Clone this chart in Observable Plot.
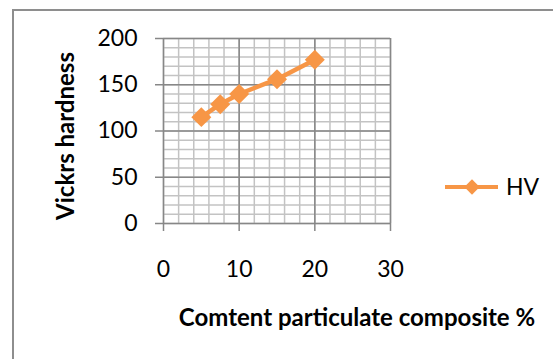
<!DOCTYPE html>
<html><head><meta charset="utf-8">
<script src="https://cdn.jsdelivr.net/npm/d3@7"></script>
<script src="https://cdn.jsdelivr.net/npm/@observablehq/plot@0.6"></script>
<style>
html,body{margin:0;padding:0;background:#fff;overflow:hidden}
#wrap{position:relative;width:553px;height:359px;overflow:hidden;font-family:Lato,"Open Sans",sans-serif}
#frame{position:absolute;left:12px;top:9px;width:600px;height:400px;border:2px solid #8e8e8e;box-sizing:border-box}
#wrap svg{position:absolute;left:0;top:0}
</style></head><body><div id="wrap"><div id="frame"></div></div>
<script>
const content = [5, 7.5, 10, 15, 20];
const hardness = [115, 129, 140, 156, 177];
const seriesName = "HV";
const xTicks = [0, 10, 20, 30];
const yTicks = [0, 50, 100, 150, 200];
const xMinorTicks = d3.range(0, 31, 2);
const yMinorTicks = d3.range(0, 201, 10);
const xTitle = "Comtent particulate composite %";
const yTitle = "Vickrs hardness";

const data = content.map((x, i) => ({x, y: hardness[i]}));
const orange = "#F79646";
const minorC = "#c3c3c3", majorC = "#878787";
const font = "Lato, 'Open Sans', sans-serif";

const chart = Plot.plot({
  width: 553, height: 359,
  marginLeft: 163, marginRight: 163, marginTop: 38, marginBottom: 136,
  style: {fontFamily: font, background: "transparent", overflow: "visible"},
  x: {domain: [0, 30]},
  y: {domain: [0, 200]},
  marks: [
    Plot.gridX({ticks: xMinorTicks, stroke: minorC, strokeOpacity: 1, strokeWidth: 1.5}),
    Plot.gridY({ticks: yMinorTicks, stroke: minorC, strokeOpacity: 1, strokeWidth: 1.5}),
    Plot.gridX({ticks: xTicks, stroke: majorC, strokeOpacity: 1, strokeWidth: 1.5}),
    Plot.gridY({ticks: yTicks, stroke: majorC, strokeOpacity: 1, strokeWidth: 1.5}),
    Plot.axisY({ticks: yTicks, tickSize: 8, stroke: majorC, strokeWidth: 1.5, tickFormat: () => "", label: null}),
    Plot.axisY({ticks: yTicks, tickSize: 0, tickPadding: 26, fontSize: 23, fill: "#000", label: null}),
    Plot.axisX({ticks: xTicks, tickSize: 8, stroke: majorC, strokeWidth: 1.5, tickFormat: () => "", label: null}),
    Plot.axisX({ticks: xTicks, tickSize: 0, tickPadding: 37, fontSize: 23, fill: "#000", label: null}),
    Plot.line(data, {x: "x", y: "y", stroke: orange, strokeWidth: 4.5}),
    Plot.dot(data, {x: "x", y: "y", symbol: "diamond2", r: 9, fill: orange, stroke: "none"}),
    Plot.text([yTitle], {text: d => d, frameAnchor: "left", textAnchor: "middle", lineAnchor: "middle", rotate: -90, dx: -97, dy: 5, fontSize: 24, fontWeight: "bold", fill: "#000"}),
    Plot.text([xTitle], {text: d => d, frameAnchor: "bottom", textAnchor: "middle", lineAnchor: "middle", dx: 80, dy: 95, fontSize: 24, fontWeight: "bold", fill: "#000"})
  ]
});
document.getElementById("wrap").appendChild(chart);

// legend
const leg = d3.select("#wrap").append("svg").attr("width", 553).attr("height", 359);
const ly = 187;
leg.append("line").attr("x1", 445).attr("x2", 498).attr("y1", ly).attr("y2", ly)
  .attr("stroke", orange).attr("stroke-width", 4);
leg.append("path").attr("d", d3.symbol(d3.symbolDiamond2, 150)()).attr("transform", `translate(472,${ly})`).attr("fill", orange);
leg.append("text").attr("x", 506).attr("y", ly).attr("dy", "0.35em").attr("font-size", 23)
  .attr("font-family", font).text(seriesName);
</script>
</body></html>
